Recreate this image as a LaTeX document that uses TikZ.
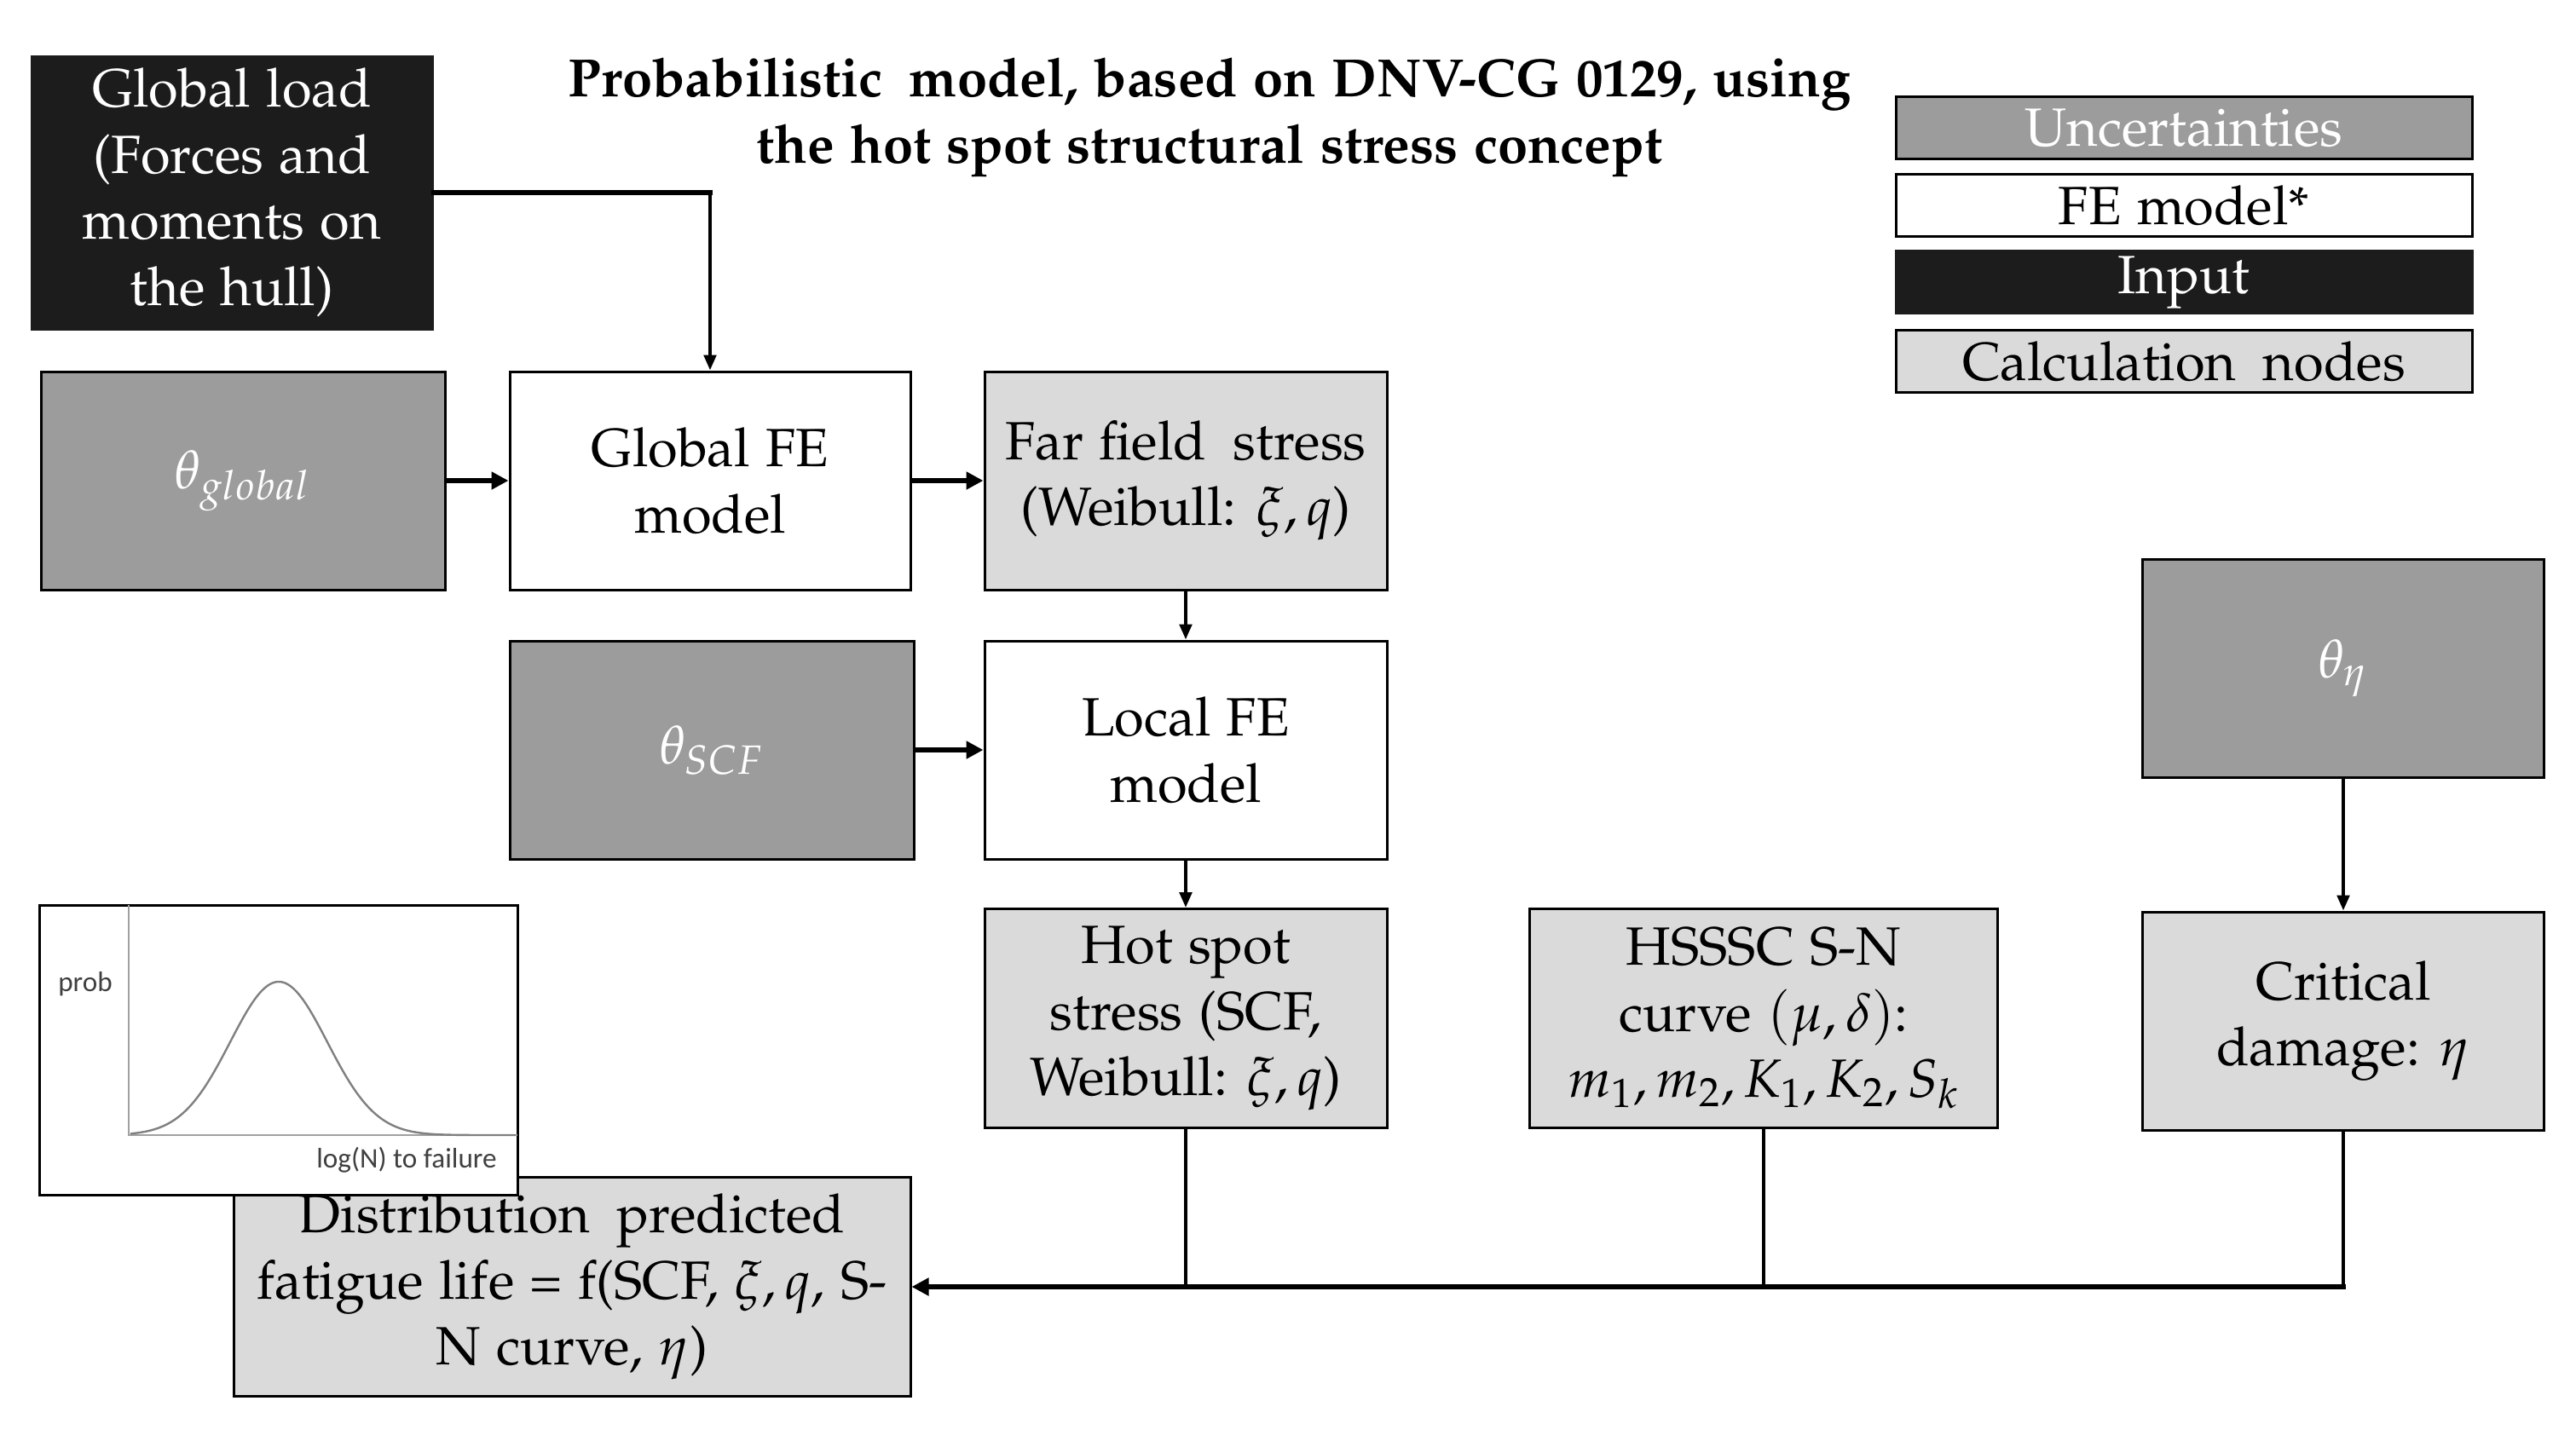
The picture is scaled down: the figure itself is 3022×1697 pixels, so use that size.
\documentclass[tikz,border=0pt]{standalone}
\usepackage[T1]{fontenc}
\usepackage{mathpazo}
\usepackage[no-math]{fontspec}
\newfontfamily\calibfont{Carlito}
\usetikzlibrary{arrows.meta}
\newcommand\palfont{\fontencoding{T1}\fontfamily{pplx}\fontseries{m}\fontshape{n}\fontsize{15.8}{19.4}\selectfont}
\newcommand\wsp{\hspace{0.5em}}
\definecolor{dgray}{HTML}{9C9C9C}
\definecolor{lgray}{HTML}{DADADA}
\definecolor{blk}{HTML}{1C1C1C}
\definecolor{plotgray}{HTML}{808080}
\definecolor{axgray}{HTML}{A0A0A0}
\begin{document}
\begin{tikzpicture}[x=0.25pt,y=-0.25pt,
  sz/.style 2 args={minimum width=#1*0.25pt, minimum height=#2*0.25pt},
  box/.style={draw=black, line width=0.75pt, align=center, inner sep=0pt, font=\palfont},
  unc/.style={box, fill=dgray, text=white},
  fem/.style={box, fill=white},
  inp/.style={box, fill=blk, draw=blk, text=white},
  calcn/.style={box, fill=lgray},
  thickln/.style={line width=1.4pt},
  thinln/.style={line width=1pt},
  bigtip/.style={-{Triangle[length=5pt,width=5pt]}},
  smalltip/.style={-{Triangle[length=4.5pt,width=3.6pt]}},
  plotlbl/.style={font=\calibfont\fontsize{8.3}{10}\selectfont, text=black!75, inner sep=0pt}
]
\useasboundingbox (0,0) rectangle (3022,1697);
\fill[white] (0,0) rectangle (3022,1697);

% title
\node[font=\palfont\bfseries, align=center] (title) at (1419,138)
  {Probabilistic\wsp model, based on DNV-CG 0129, using\\the hot spot structural stress concept};

% legend
\node[unc, sz={676}{73}] (lu) at (2562,150) {Uncertainties};
\node[fem, sz={676}{73}] (lf) at (2562,241) {FE model*};
\node[inp, sz={676}{73}] (li) at (2562,331) {\raisebox{-2pt}{Input}};
\node[calcn, sz={676}{73}] (lc) at (2562,424) {Calculation\wsp nodes};

% main nodes
\node[inp, sz={470}{320}] (gload) at (272,226) {Global load\\(Forces and\\moments on\\the hull)};
\node[unc, sz={474}{256}] (thg) at (285,564) {$\theta_{global}$};
\node[fem, sz={470}{256}] (gfe) at (833,564) {Global FE\\model};
\node[calcn, sz={472}{256}] (ffs) at (1391,564) {Far field\wsp stress\\(Weibull: $\xi, q$)};
\node[unc, sz={474}{256}] (ths) at (835,880) {$\theta_{SCF}$};
\node[fem, sz={472}{256}] (lfe) at (1391,880) {Local FE\\model};
\node[unc, sz={471}{256}] (the) at (2749,784) {$\theta_{\eta}$};
\node[calcn, sz={472}{257}] (hss) at (1391,1195) {Hot spot\\stress (SCF,\\Weibull: $\xi, q$)};
\node[calcn, sz={549}{257}] (sn) at (2069,1195) {HSSSC S-N\\curve $(\mu, \delta)$:\\$m_1, m_2, K_1, K_2, S_k$};
\node[calcn, sz={471}{256}] (crit) at (2749,1198) {Critical\\damage: $\eta$};
\node[calcn, sz={794}{257}] (dist) at (671,1510) {Distribution\wsp predicted\\fatigue life = f(SCF, $\xi, q$, S-\\N curve, $\eta$)};

% plot inset
\node[draw=black, fill=white, line width=0.75pt, sz={561}{340}, inner sep=0pt] (plot) at (326.5,1232) {};
\draw[axgray, line width=0.6pt] (151,1062) -- (151,1332) -- (607,1332);
\draw[plotgray, line width=0.6pt] plot[domain=153:605, samples=150, smooth]
  (\x, {1332-180*exp(-0.5*((\x-327)/57)*((\x-327)/57))});
\node[plotlbl] (prob) at (100,1155) {prob};
\node[plotlbl] (xlab) at (477,1361) {log(N) to failure};

% connectors
\coordinate (gc) at (gfe.north |- gload.east);
\draw[thickln, line cap=rect] (gload.east) -- (gc);
\draw[thinln, smalltip] (gc) -- (gfe.north);
\draw[thickln, bigtip] (thg.east) -- (gfe.west);
\draw[thickln, bigtip] (gfe.east) -- (ffs.west);
\draw[thinln, smalltip] (ffs.south) -- (lfe.north);
\draw[thickln, bigtip] (ths.east) -- (lfe.west);
\draw[thinln, smalltip] (lfe.south) -- (hss.north);
\draw[thinln, smalltip] (the.south) -- (crit.north);

\coordinate (b1) at (hss.south |- dist.east);
\coordinate (b2) at (sn.south |- dist.east);
\coordinate (b3) at (crit.south |- dist.east);
\draw[thinln] (hss.south) -- (b1);
\draw[thinln] (sn.south) -- (b2);
\draw[thinln] (crit.south) -- (b3);
\draw[thickln, bigtip, line cap=rect] (b3) -- (dist.east);
\end{tikzpicture}
\end{document}
